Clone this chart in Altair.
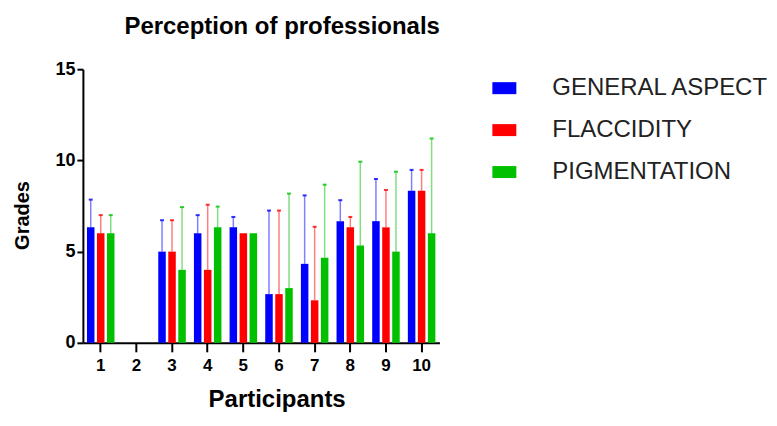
import altair as alt
import pandas as pd

participants = [str(i) for i in range(1, 11)]
series = ["GENERAL ASPECT", "FLACCIDITY", "PIGMENTATION"]
colors = ["#0000FF", "#FF0000", "#00C000"]

general_mean = [6.33, None, 5.0, 6.0, 6.33, 2.67, 4.33, 6.67, 6.67, 8.33]
general_top = [7.85, None, 6.72, 7.0, 6.9, 7.25, 8.08, 7.82, 8.98, 9.48]
flaccidity_mean = [6.0, None, 5.0, 4.0, 6.0, 2.67, 2.33, 6.33, 6.33, 8.33]
flaccidity_top = [7.0, None, 6.72, 7.57, None, 7.25, 6.36, 6.9, 8.38, 9.48]
pigmentation_mean = [6.0, None, 4.0, 6.33, 6.0, 3.0, 4.67, 5.33, 5.0, 6.0]
pigmentation_top = [7.0, None, 7.44, 7.47, None, 8.18, 8.67, 9.93, 9.38, 11.2]

rows = []
for name, means, tops in [
    (series[0], general_mean, general_top),
    (series[1], flaccidity_mean, flaccidity_top),
    (series[2], pigmentation_mean, pigmentation_top),
]:
    for p, m, t in zip(participants, means, tops):
        rows.append({"participant": p, "series": name, "mean": m, "top": t})
df = pd.DataFrame(rows)

x_enc = alt.X(
    "participant:N",
    sort=participants,
    scale=alt.Scale(domain=participants, paddingInner=0.2, paddingOuter=0.1),
    axis=alt.Axis(
        title="Participants",
        labelAngle=0,
        labelFontSize=17,
        tickSize=9,
        labelPadding=6,
        titleFontSize=24,
        titleX=194,
        titleY=64,
        titleBaseline="alphabetic",
    ),
)
xoff_enc = alt.XOffset(
    "series:N",
    sort=series,
    scale=alt.Scale(domain=series, paddingInner=0.25, paddingOuter=0.05),
)
color_enc = alt.Color(
    "series:N",
    sort=series,
    scale=alt.Scale(domain=series, range=colors),
    legend=alt.Legend(
        title=None,
        orient="none",
        legendX=410,
        legendY=7,
        symbolType="M-1,-0.5H1V0.5H-1Z",
        symbolSize=576,
        symbolStrokeWidth=0,
        symbolOpacity=1,
        labelFont="Liberation Sans",
        labelFontSize=24,
        labelColor="#222222",
        labelOffset=36,
        labelLimit=0,
        rowPadding=18,
    ),
)
y_scale = alt.Scale(domain=[0, 15], nice=False)
y_axis = alt.Axis(
    title="Grades",
    values=[0, 5, 10, 15],
    labelFontSize=18,
    tickSize=6,
    labelPadding=2,
    titleFontSize=20,
    titleX=-50,
    titleY=146,
)

base = alt.Chart(df).encode(x=x_enc, xOffset=xoff_enc, color=color_enc)

bars = base.transform_filter("isValid(datum.mean)").mark_bar().encode(
    y=alt.Y("mean:Q", scale=y_scale, axis=y_axis)
)
rules = base.transform_filter("isValid(datum.top)").mark_rule(
    strokeWidth=1.5, opacity=0.5
).encode(
    y=alt.Y("mean:Q", scale=y_scale, axis=y_axis),
    y2="top:Q",
)
caps = base.transform_filter("isValid(datum.top)").mark_tick(
    thickness=2, size=4, opacity=0.8
).encode(y=alt.Y("top:Q", scale=y_scale, axis=y_axis))

chart = (
    alt.layer(bars, rules, caps)
    .properties(
        width=357,
        height=274,
        autosize=alt.AutoSizeParams(type="none"),
        padding={"left": 75, "top": 61, "right": 330, "bottom": 69},
        title=alt.TitleParams(
            "Perception of professionals",
            font="Liberation Sans",
            fontSize=24,
            fontWeight="bold",
            color="black",
            anchor="middle",
            frame="group",
            dx=21,
            offset=21,
        ),
    )
    .configure_view(stroke=None)
    .configure_axis(
        domainColor="black",
        domainWidth=2,
        tickColor="black",
        tickWidth=2,
        labelColor="black",
        labelFont="Liberation Sans",
        labelFontWeight="bold",
        titleFont="Liberation Sans",
        titleFontWeight="bold",
        titleColor="black",
        grid=False,
    )
)

chart.save("out.html", embed_options={"renderer": "svg", "actions": False})
